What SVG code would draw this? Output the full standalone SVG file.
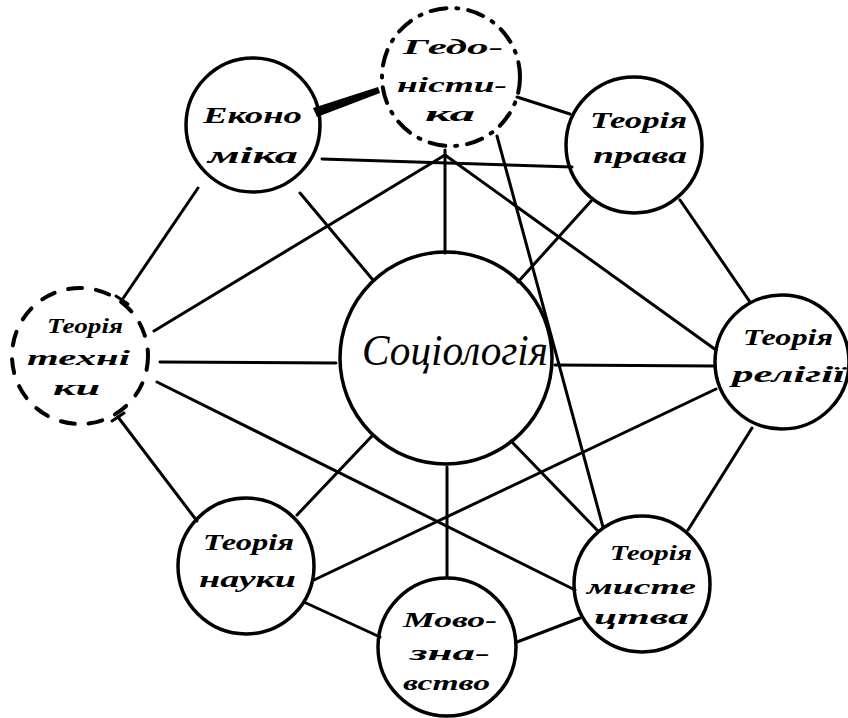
<svg xmlns="http://www.w3.org/2000/svg" width="848" height="718" viewBox="0 0 848 718">
<style>
.n{fill:none;stroke:#000;stroke-width:3.5}
.d{fill:none;stroke:#000;stroke-width:4;stroke-linecap:round}
.e line{stroke:#000;stroke-width:3;stroke-linecap:round}
.t{font-family:"Liberation Serif","DejaVu Serif",serif;font-style:italic;font-weight:bold;font-size:24px;fill:#000}
.s{font-size:22px}
.big{font-size:44px;font-weight:normal}
</style>
<rect width="848" height="718" fill="#fff"/>
<g id="connectors" class="e">
<polygon points="313,108 317,117 380,93 378,87" fill="#000"/>
<line x1="517" y1="97" x2="570" y2="114"/>
<line x1="322" y1="159" x2="572" y2="167"/>
<line x1="198" y1="188" x2="122" y2="300"/>
<line x1="116" y1="296" x2="128" y2="304"/>
<line x1="300" y1="193" x2="373" y2="280"/>
<line x1="445" y1="150" x2="445" y2="253"/>
<line x1="445" y1="155" x2="154" y2="331"/>
<line x1="445" y1="155" x2="716" y2="350"/>
<line x1="497" y1="136" x2="603" y2="527"/>
<line x1="592" y1="200" x2="518" y2="282"/>
<line x1="680" y1="200" x2="750" y2="302"/>
<line x1="160" y1="362" x2="336" y2="363"/>
<line x1="157" y1="382" x2="575" y2="590"/>
<line x1="118" y1="417" x2="197" y2="521"/>
<line x1="112" y1="421" x2="124" y2="413"/>
<line x1="555" y1="365" x2="715" y2="366"/>
<line x1="716" y1="389" x2="314" y2="580"/>
<line x1="752" y1="428" x2="688" y2="530"/>
<line x1="372" y1="436" x2="297" y2="515"/>
<line x1="447" y1="467" x2="447" y2="577"/>
<line x1="511" y1="441" x2="597" y2="530"/>
<line x1="306" y1="603" x2="380" y2="637"/>
<line x1="517" y1="642" x2="580" y2="618"/>
</g>
<g id="sociologiya">
<circle class="n" cx="446" cy="358" r="106"/>
<text class="t big" x="362" y="365" textLength="186" lengthAdjust="spacingAndGlyphs">Соціологія</text>
</g>
<g id="ekonomika">
<circle class="n" cx="253" cy="125" r="67"/>
<text class="t" x="203" y="123" textLength="99" lengthAdjust="spacingAndGlyphs">Еконо</text>
<text class="t" x="208" y="163" textLength="90" lengthAdjust="spacingAndGlyphs">міка</text>
</g>
<g id="gedonistyka">
<circle class="d" cx="451" cy="77" r="69" stroke-dasharray="16 10 2 10"/>
<text class="t s" x="403" y="54" textLength="100" lengthAdjust="spacingAndGlyphs">Гедо-</text>
<text class="t s" x="397" y="92" textLength="110" lengthAdjust="spacingAndGlyphs">ністи-</text>
<text class="t s" x="425" y="121" textLength="50" lengthAdjust="spacingAndGlyphs">ка</text>
</g>
<g id="teoriya-prava">
<circle class="n" cx="634" cy="145" r="68"/>
<text class="t" x="590" y="128" textLength="97" lengthAdjust="spacingAndGlyphs">Теорія</text>
<text class="t" x="593" y="163" textLength="94" lengthAdjust="spacingAndGlyphs">права</text>
</g>
<g id="teoriya-religii">
<circle class="n" cx="782" cy="362" r="67"/>
<text class="t" x="743" y="345" textLength="90" lengthAdjust="spacingAndGlyphs">Теорія</text>
<text class="t" x="732" y="382" textLength="113" lengthAdjust="spacingAndGlyphs">релігії</text>
</g>
<g id="teoriya-tekhniky">
<circle class="d" cx="80" cy="356" r="68" stroke-dasharray="14 14"/>
<text class="t s" x="47" y="333" textLength="76" lengthAdjust="spacingAndGlyphs">Теорія</text>
<text class="t s" x="27" y="365" textLength="103" lengthAdjust="spacingAndGlyphs">техні</text>
<text class="t s" x="53" y="395" textLength="47" lengthAdjust="spacingAndGlyphs">ки</text>
</g>
<g id="teoriya-nauky">
<circle class="n" cx="246" cy="566" r="68"/>
<text class="t" x="203" y="550" textLength="91" lengthAdjust="spacingAndGlyphs">Теорія</text>
<text class="t" x="199" y="587" textLength="97" lengthAdjust="spacingAndGlyphs">науки</text>
</g>
<g id="movoznavstvo">
<circle class="n" cx="447" cy="647" r="69"/>
<text class="t s" x="403" y="627" textLength="94" lengthAdjust="spacingAndGlyphs">Мово-</text>
<text class="t s" x="410" y="660" textLength="80" lengthAdjust="spacingAndGlyphs">зна-</text>
<text class="t s" x="403" y="690" textLength="87" lengthAdjust="spacingAndGlyphs">вство</text>
</g>
<g id="teoriya-mystetstva">
<circle class="n" cx="642" cy="584" r="68"/>
<text class="t s" x="610" y="560" textLength="82" lengthAdjust="spacingAndGlyphs">Теорія</text>
<text class="t s" x="587" y="594" textLength="109" lengthAdjust="spacingAndGlyphs">мисте</text>
<text class="t s" x="594" y="624" textLength="95" lengthAdjust="spacingAndGlyphs">цтва</text>
</g>
</svg>
